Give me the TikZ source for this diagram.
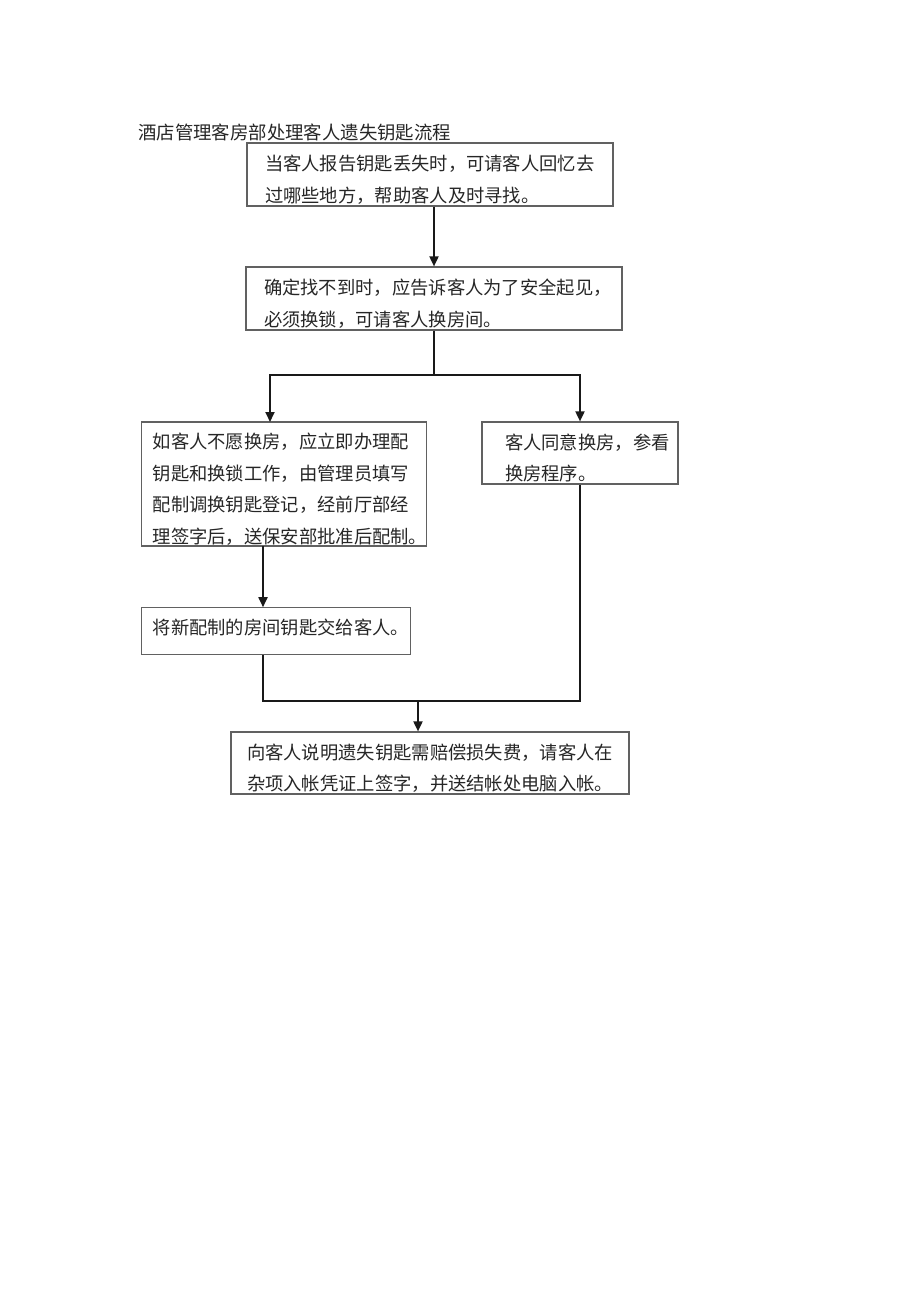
\documentclass[tikz,border=0pt]{standalone}
\usepackage{fontspec}
\newfontfamily\cjk{Noto Sans CJK SC}
\usetikzlibrary{arrows.meta,calc}
\definecolor{boxgray}{rgb}{0.38,0.38,0.38}
\definecolor{textc}{rgb}{0.15,0.15,0.15}
\newcommand\dn{\rule{0pt}{25.5pt}}
\newcommand\upb{\rule[-10pt]{0pt}{0pt}}
\begin{document}
\begin{tikzpicture}[x=1pt,y=-1pt,
  box/.style={draw=boxgray, line width=1.2pt, inner xsep=0pt, inner ysep=0pt,
    align=left, font=\cjk\fontsize{18.3}{31.5}\selectfont, text=textc},
  conn/.style={draw=black!90, line width=1.8pt, line join=miter},
  arr/.style={conn, -{Triangle[length=10pt,width=9pt]}}]
\useasboundingbox (0,0) rectangle (920,1301);
\node[anchor=west, inner sep=0pt, text=textc, font=\cjk\fontsize{18.4}{20}\selectfont] (title) at (138,132) {酒店管理客房部处理客人遗失钥匙流程};
\node[box, text width=366pt, minimum height=63pt] (b1) at (430,174.5)
  {\hspace*{18pt}\dn 当客人报告钥匙丢失时，可请客人回忆去\\\hspace*{18pt}过哪些地方，帮助客人及时寻找。};
\node[box, text width=376pt, minimum height=63pt] (b2) at (434,298.5)
  {\hspace*{18pt}\dn 确定找不到时，应告诉客人为了安全起见，\\\hspace*{18pt}必须换锁，可请客人换房间。};
\node[box, text width=285pt, minimum height=124pt] (b3) at (284.2,484)
  {\hspace*{11pt}\dn 如客人不愿换房，应立即办理配\\\hspace*{11pt}钥匙和换锁工作，由管理员填写\\\hspace*{11pt}配制调换钥匙登记，经前厅部经\\\hspace*{11pt}理签字后，送保安部批准后配制。};
\node[box, text width=196pt, minimum height=62pt] (b4) at (580,453)
  {\hspace*{23pt}\dn 客人同意换房，参看\\\hspace*{23pt}换房程序。};
\node[box, text width=269pt, minimum height=47pt] (b5) at (276.2,631.3)
  {\hspace*{11pt}将新配制的房间钥匙交给客人。\upb};
\node[box, text width=398pt, minimum height=62pt] (b6) at (430,763)
  {\hspace*{16pt}\dn 向客人说明遗失钥匙需赔偿损失费，请客人在\\\hspace*{16pt}杂项入帐凭证上签字，并送结帐处电脑入帐。};
\coordinate (split) at (434,375);
\coordinate (b3in) at (270,422);
\coordinate (b3out) at (263,546);
\coordinate (merge) at (418,701);
\draw[arr] (b2.north |- b1.south) -- (b2.north);
\draw[conn] (b2.south) -- (split);
\draw[arr] (split) -| (b3in);
\draw[arr] (split) -| (b4.north);
\draw[arr] (b3out) -- (b3out |- b5.north);
\draw[conn] (b3out |- b5.south) |- (merge -| b4.south) -- (b4.south);
\draw[arr] (merge) -- (merge |- b6.north);
\end{tikzpicture}
\end{document}
